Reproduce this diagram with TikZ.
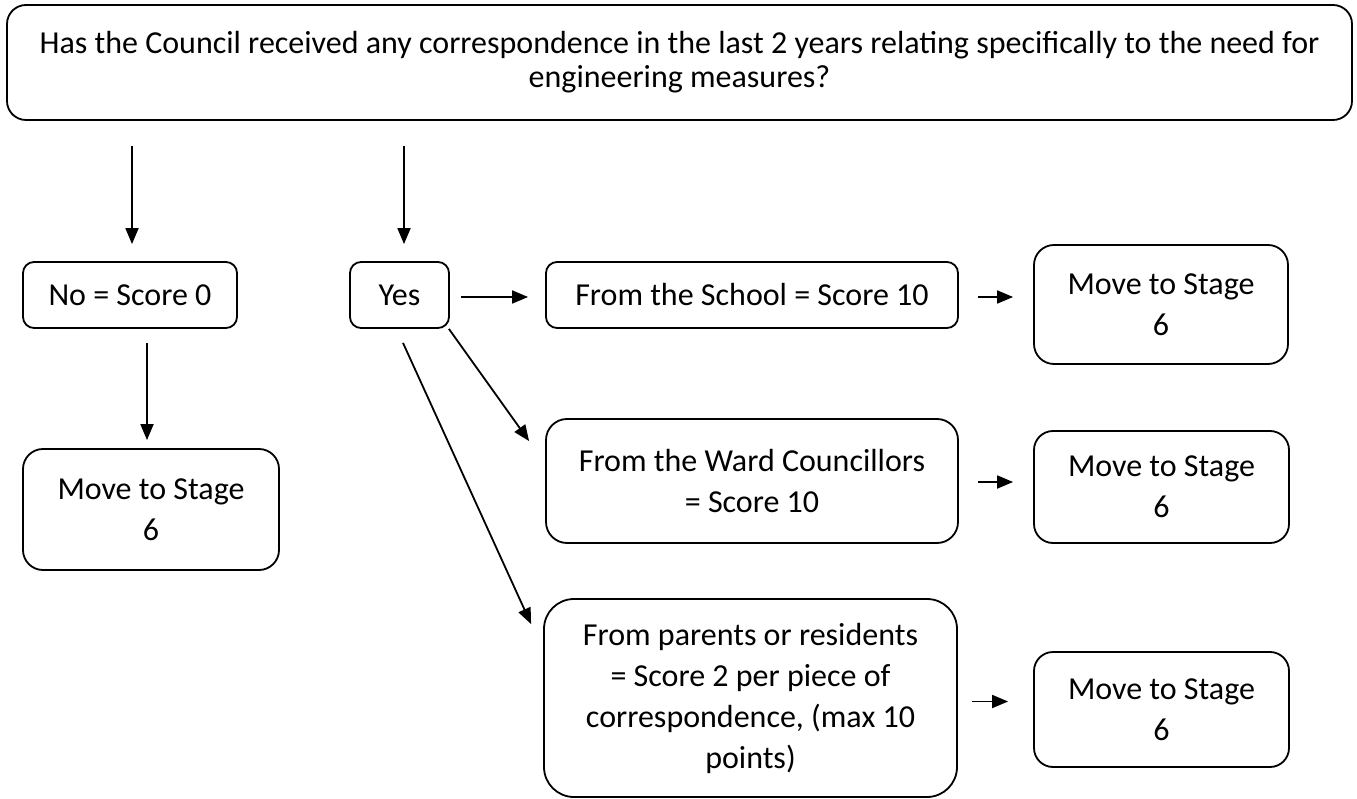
\documentclass[tikz,border=0pt]{standalone}
\usepackage{fontspec}
\setmainfont{Carlito}
\usetikzlibrary{arrows.meta,calc}
\begin{document}
\begin{tikzpicture}[x=1pt,y=-1pt,
  box/.style={draw,line width=1.8pt,rectangle,inner sep=0pt,align=center,
    font=\fontsize{32}{41}\selectfont},
  arr/.style={line width=1.8pt,-{Triangle[length=16pt,width=13pt]}}]
\useasboundingbox (0,0) rectangle (1357,799);
\node[box,rounded corners=19pt,minimum width=1345pt,minimum height=115pt,
  font=\fontsize{32}{34}\selectfont] (top) at (679.5,62.5)
  {Has the Council received any correspondence in the last 2 years relating specifically to the need for\\engineering measures?};
\node[box,rounded corners=11pt,minimum width=214pt,minimum height=66pt] (no) at (130,295) {No = Score 0};
\node[box,rounded corners=11pt,minimum width=99pt,minimum height=66pt] (yes) at (399.5,295) {Yes};
\node[box,rounded corners=11pt,minimum width=412pt,minimum height=66pt] (school) at (752,295) {From the School = Score 10};
\node[box,rounded corners=20pt,minimum width=254pt,minimum height=119pt] (move1) at (1161,304.5) {Move to Stage\\6};
\node[box,rounded corners=20pt,minimum width=256pt,minimum height=121pt] (moveL) at (151,509.5) {Move to Stage\\6};
\node[box,rounded corners=21pt,minimum width=412pt,minimum height=124pt] (ward) at (752,481) {From the Ward Councillors\\= Score 10};
\node[box,rounded corners=19pt,minimum width=255pt,minimum height=112pt] (move2) at (1161.5,487) {Move to Stage\\6};
\node[box,rounded corners=30pt,minimum width=413pt,minimum height=198pt] (parents) at (750.5,698) {From parents or residents\\= Score 2 per piece of\\correspondence, (max 10\\points)};
\node[box,rounded corners=19pt,minimum width=255pt,minimum height=115pt] (move3) at (1161.5,709.5) {Move to Stage\\6};

\draw[arr] ($(top.south -| no.north)+(2,25)$) -- ($(no.north)+(2,-17)$);
\draw[arr] ($(top.south -| yes.north)+(4.5,25)$) -- ($(yes.north)+(4.5,-17)$);
\draw[arr] ($(no.south -| moveL.north)+(-4,14)$) -- ($(moveL.north)+(-4,-8)$);
\draw[arr] ($(yes.east)+(11,2)$) -- ($(school.west)+(-17,2)$);
\draw[arr] ($(school.east)+(19,2)$) -- ($(school.east -| move1.west)+(-20,2)$);
\draw[arr] ($(ward.east)+(19,1)$) -- ($(ward.east -| move2.west)+(-20,1)$);
\draw[arr] ($(parents.east)+(14,3.5)$) -- ($(parents.east -| move3.west)+(-25,3.5)$);
\draw[arr] ($(yes.south east)+(-1,0)$) -- ($(ward.north west)+(-16,23)$);
\draw[arr] ($(yes.south)+(3.5,14)$) -- ($(parents.north west)+(-12,26)$);
\end{tikzpicture}
\end{document}
